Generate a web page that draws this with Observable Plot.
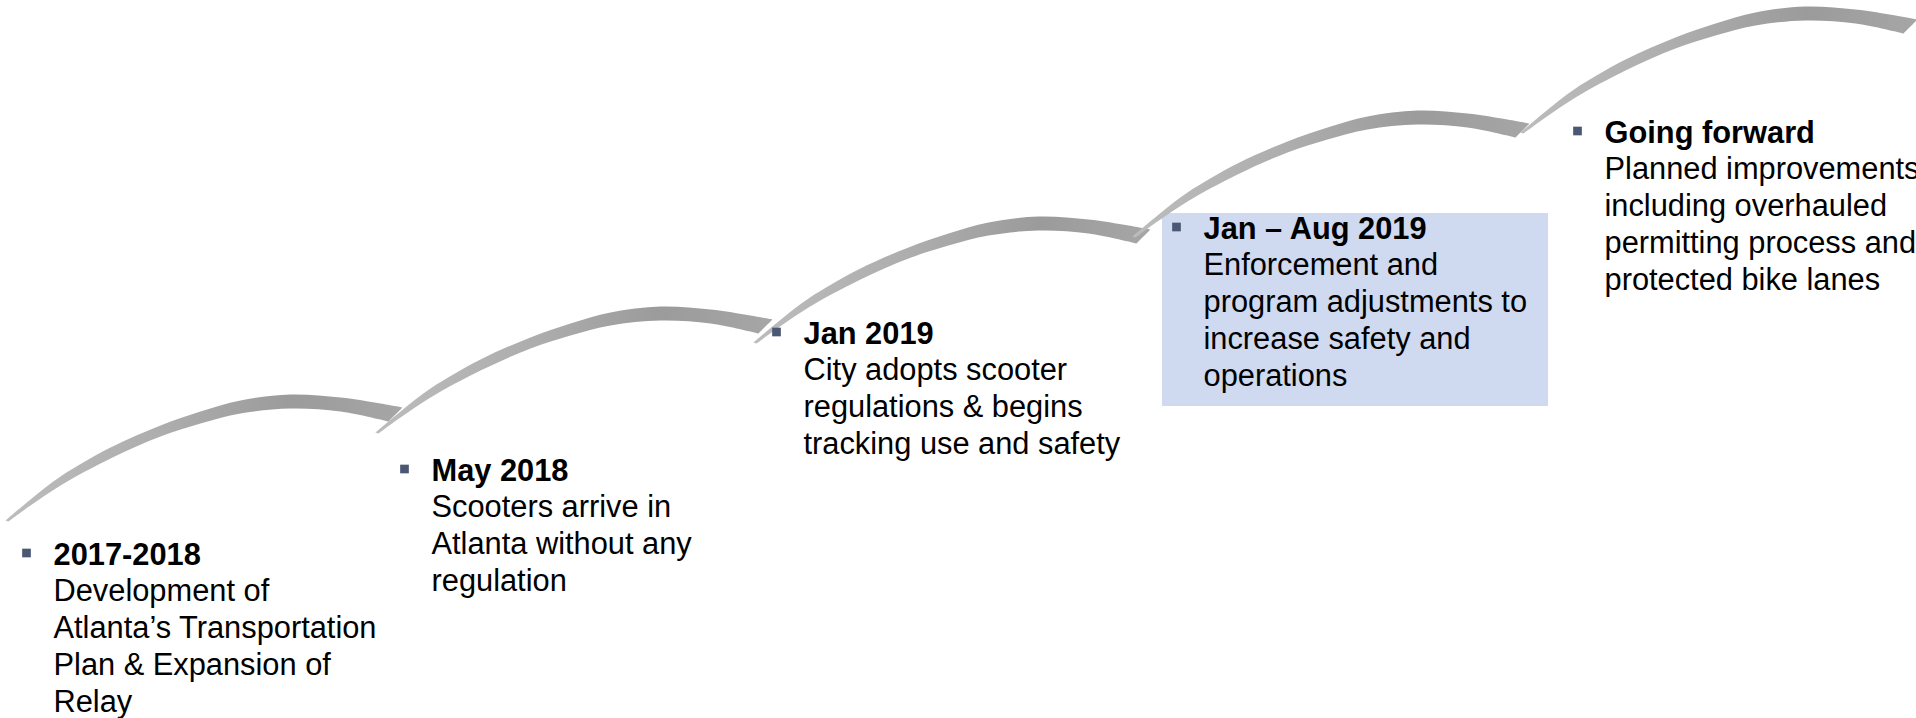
<!DOCTYPE html>
<html>
<head>
<meta charset="utf-8">
<script src="https://cdn.jsdelivr.net/npm/d3@7"></script>
<script src="https://cdn.jsdelivr.net/npm/@observablehq/plot@0.6"></script>
<style>
  html, body { margin: 0; padding: 0; background: #ffffff; }
  #chart svg { display: block; }
</style>
</head>
<body>
<div id="chart"></div>
<script>
// ---- Milestone content ----
const milestones = ["2017-2018", "May 2018", "Jan 2019", "Jan \u2013 Aug 2019", "Going forward"];
const descriptions = [
  ["Development of", "Atlanta\u2019s Transportation", "Plan & Expansion of", "Relay"],
  ["Scooters arrive in", "Atlanta without any", "regulation"],
  ["City adopts scooter", "regulations & begins", "tracking use and safety"],
  ["Enforcement and", "program adjustments to", "increase safety and", "operations"],
  ["Planned improvements", "including overhauled", "permitting process and", "protected bike lanes"]
];
// anchor of each milestone's title (x of text start, y of title baseline)
const milestoneX = [53, 431, 803, 1203, 1604];
const milestoneY = [564, 480, 343, 238, 142];
// highlight box for the current stage
const boxX1 = [1162], boxX2 = [1548], boxY1 = [213], boxY2 = [406];

// ---- Swoosh (step) outline, read from the picture, and step offsets ----
// corner points (tail tip, cut ends) are listed twice to keep them sharp
const swooshTopX = [5, 5, 30, 60, 110, 160, 200, 240, 290, 340, 380, 402, 402];
const swooshTopY = [520, 520, 499, 476, 447, 425, 411, 400, 394, 397, 403, 407, 407];
const swooshBottomX = [388, 388, 340, 290, 240, 200, 160, 110, 60, 30, 8, 8];
const swooshBottomY = [421, 421, 411, 408, 413, 423, 436, 458, 485, 505, 521, 521];
const stepDX = [0, 370, 748, 1127, 1515];
const stepDY = [0, -88, -178, -284, -388];

// ---- Build tables ----
const outlineX = swooshTopX.concat(swooshBottomX);
const outlineY = swooshTopY.concat(swooshBottomY);
const swooshes = [];
stepDX.forEach((dx, s) => {
  outlineX.forEach((x, i) => swooshes.push({step: s, x: x + dx, y: outlineY[i] + stepDY[s]}));
});

const LINE = 36.8;
const titles = milestones.map((t, i) => ({text: t, x: milestoneX[i], y: milestoneY[i]}));
const bodyLines = [];
descriptions.forEach((lines, i) => lines.forEach((t, j) =>
  bodyLines.push({text: t, x: milestoneX[i], y: milestoneY[i] + (j + 1) * LINE})));
const bullets = milestones.map((t, i) => ({x: milestoneX[i] - 27, y: milestoneY[i] - 11.5}));
const boxes = boxX1.map((x1, i) => ({x1, x2: boxX2[i], y1: boxY1[i], y2: boxY2[i]}));

const FONT = "'Liberation Sans', Arial, sans-serif";
const FS = 30.8;

const chart = Plot.plot({
  width: 1916,
  height: 718,
  margin: 0,
  x: {domain: [0, 1916], range: [0, 1916], axis: null},
  y: {domain: [0, 718], range: [0, 718], axis: null},
  style: {background: "#ffffff", fontFamily: FONT},
  marks: [
    Plot.rect(boxes, {x1: "x1", x2: "x2", y1: "y1", y2: "y2", fill: "#cfdaf0"}),
    Plot.line(swooshes, {x: "x", y: "y", z: "step", curve: "catmull-rom", fill: "url(#swooshGrad)", stroke: "none"}),
    Plot.dot(bullets, {x: "x", y: "y", symbol: "square", r: 4.9, fill: "#4a5874", stroke: "none"}),
    Plot.text(titles, {x: "x", y: "y", text: "text", textAnchor: "start", lineAnchor: "bottom",
      fontSize: FS, fontWeight: "bold", fill: "#000000", fontFamily: FONT}),
    Plot.text(bodyLines, {x: "x", y: "y", text: "text", textAnchor: "start", lineAnchor: "bottom",
      fontSize: FS, fill: "#000000", fontFamily: FONT})
  ]
});

chart.insertAdjacentHTML("afterbegin",
  `<defs><linearGradient id="swooshGrad" x1="0" y1="0" x2="1" y2="0">
     <stop offset="0%" stop-color="#bcbcbc"/>
     <stop offset="40%" stop-color="#adadad"/>
     <stop offset="72%" stop-color="#9b9b9b"/>
     <stop offset="100%" stop-color="#a6a6a6"/>
   </linearGradient></defs>`);

document.getElementById("chart").appendChild(chart);
</script>
</body>
</html>
